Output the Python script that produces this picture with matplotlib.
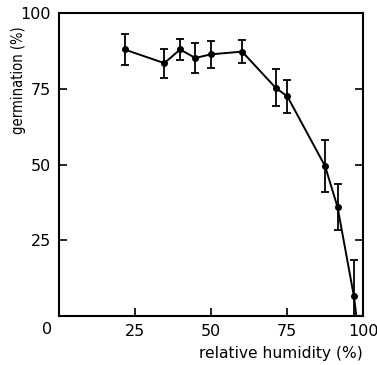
import matplotlib.pyplot as plt

# relative humidity (%) and germination (%) with error half-widths
humidity = [21.5, 34.6, 39.8, 44.8, 49.9, 60.2, 71.2, 75.1, 87.5, 91.6, 97.0]
germination = [88.0, 83.5, 88.0, 85.2, 86.4, 87.3, 75.4, 72.5, 49.5, 36.0, 6.5]
error = [5.0, 4.8, 3.6, 5.0, 4.5, 3.7, 6.2, 5.3, 8.5, 7.5, 12.0]

# curve runs down to the axis past the last point
tail_x = [97.0, 97.8]
tail_y = [6.5, 0.0]

xticks = [25, 50, 75, 100]
yticks = [25, 50, 75, 100]

plt.rcParams["font.family"] = "DejaVu Sans"

fig = plt.figure(figsize=(3.77, 3.65), dpi=100)
ax = fig.add_axes([0.157, 0.134, 0.806, 0.830])

ax.errorbar(humidity, germination, yerr=error, color="black", lw=1.4,
            marker="o", markersize=4, elinewidth=1.3, capsize=3,
            capthick=1.3, clip_on=True)
ax.plot(tail_x, tail_y, color="black", lw=1.4)

ax.set_xlim(0, 100)
ax.set_ylim(0, 100)
ax.set_xticks(xticks)
ax.set_yticks(yticks)
ax.tick_params(direction="in", length=6, width=1.2, labelsize=11.5,
               right=True, top=False, pad=6)
ax.tick_params(axis="y", pad=6)
for s in ax.spines.values():
    s.set_linewidth(1.5)

ax.text(-0.04, -0.02, "0", transform=ax.transAxes, ha="center", va="top",
        fontsize=11.5)

# y label sits high on the left edge, just under the top tick label
ax.text(-0.135, 0.955, "germination (%)", transform=ax.transAxes,
        rotation=90, ha="center", va="top", fontsize=10.5,
        fontstretch="condensed")
ax.set_xlabel("relative humidity (%)", fontsize=11.2, labelpad=5, loc="right")

fig.savefig("out.png", dpi=100)
